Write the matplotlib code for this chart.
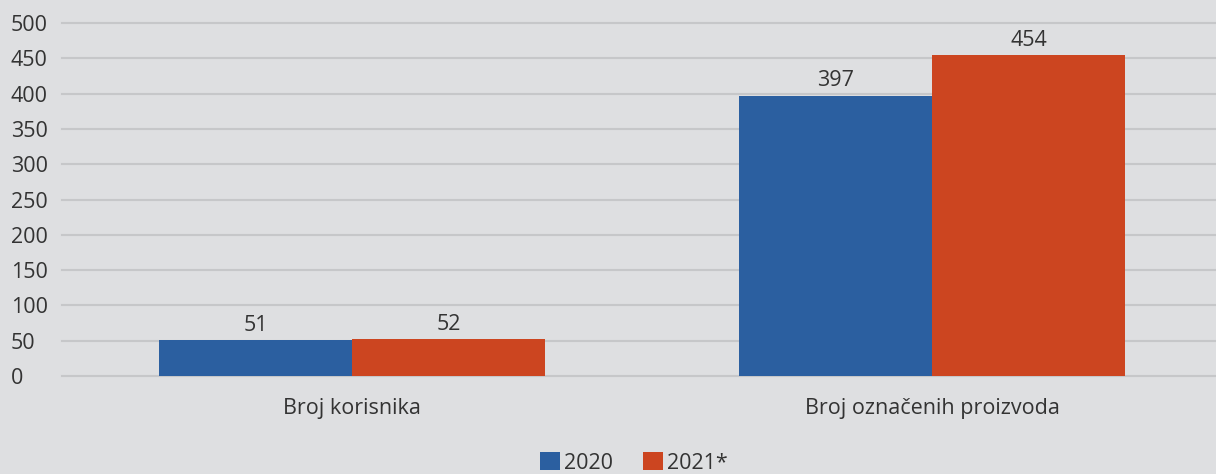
import numpy as np
from matplotlib import pyplot as plt

categories = ['Broj korisnika', 'Broj označenih proizvoda']
series_names = ['2020', '2021*']
vals_2020 = [51, 397]
vals_2021 = [52, 454]
yticks = [0, 50, 100, 150, 200, 250, 300, 350, 400, 450, 500]

plt.rcParams['font.family'] = ['Open Sans', 'DejaVu Sans']
bg = '#dedfe1'
txt = '#333333'
blue = '#2b5fa0'
orange = '#cc4520'
fs = 15.5

fig = plt.figure(figsize=(12.16, 4.74), dpi=100, facecolor=bg)
ax = fig.add_axes([62/1216, (474-376)/474, (1216-62)/1216, 353/474])
ax.set_facecolor(bg)

x = np.arange(len(categories))
w = 0.333
b1 = ax.bar(x - w/2, vals_2020, w, color=blue, label=series_names[0], zorder=3)
b2 = ax.bar(x + w/2, vals_2021, w, color=orange, label=series_names[1], zorder=3)
for bars in (b1, b2):
    for r in bars:
        ax.text(r.get_x() + r.get_width()/2, r.get_height() + 6, str(int(r.get_height())),
                ha='center', va='bottom', fontsize=fs, color=txt)

ax.set_xlim(-0.5, 1.5 - 6/580)
ax.set_ylim(0, 500)
ax.set_yticks(yticks)
ax.set_yticklabels([str(v) for v in yticks], ha='left')
ax.set_xticks(x)
ax.set_xticklabels(categories)
ax.tick_params(axis='both', length=0, labelsize=fs, colors=txt)
ax.tick_params(axis='x', pad=16)
ax.tick_params(axis='y', pad=37)
ax.grid(axis='y', color='#c6c7c9', linewidth=1.5, zorder=0, clip_on=False)
for s in ax.spines.values():
    s.set_visible(False)

fig.legend(handles=[b1, b2], labels=series_names, loc='center', bbox_to_anchor=(634/1216, 1-463/474),
           ncol=2, frameon=False, fontsize=fs, handlelength=0.9, handleheight=0.9,
           handletextpad=0.2, columnspacing=1.4, labelcolor=txt)

plt.savefig('out.png', dpi=100, facecolor=bg)
